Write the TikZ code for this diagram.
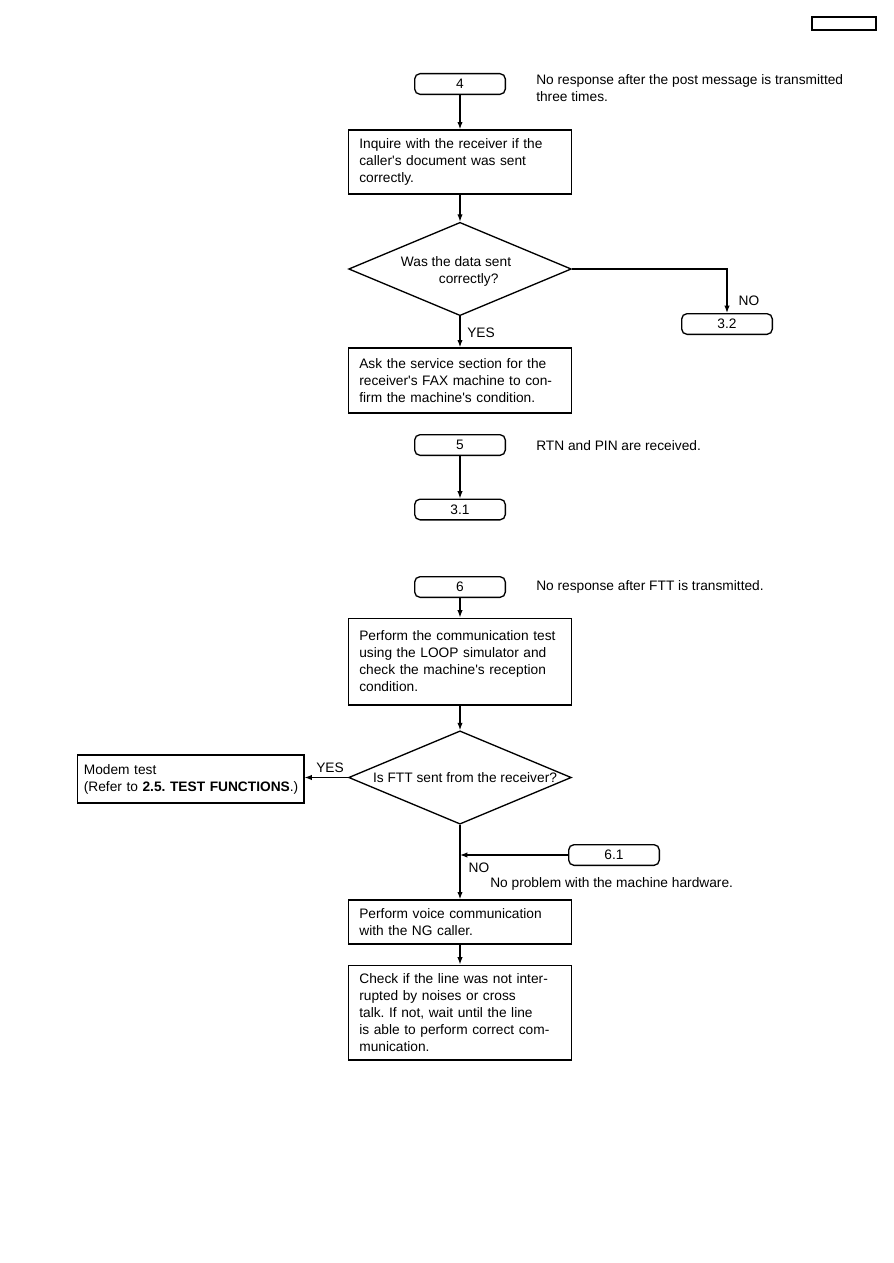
\documentclass[tikz,border=0pt]{standalone}
\usepackage{fontspec}
\setmainfont{Liberation Sans}
\usetikzlibrary{arrows.meta,shapes.geometric}
\newcommand\ap{\textquotesingle}
\tikzset{
  flowbox/.style={draw,line width=1pt,inner xsep=8pt,align=left,
    text width=151pt,minimum height=#1},
  termbox/.style={draw,line width=1pt,rounded corners=4pt,
    minimum width=68pt,minimum height=15.5pt,inner sep=0pt},
  decision/.style={draw,diamond,line width=1pt,inner sep=0pt,
    minimum width=167pt,minimum height=70pt},
  note/.style={anchor=west,align=left,inner sep=0pt},
  flow/.style={line width=.9pt,-{Latex[length=5.5pt,width=4pt]}},
}
\begin{document}
\frenchspacing
\begin{tikzpicture}[x=.75pt,y=-.75pt,font=\fontsize{10.3}{12.75}\selectfont]
  \useasboundingbox (0,0) rectangle (893,1263);
  % page tag
  \node[draw,line width=1.2pt,minimum width=48pt,minimum height=9.5pt,inner sep=0pt]
    (tag) at (844,23.5) {};

  % block 4
  \node[termbox] (t4) at (460,84) {4};
  \node[note] (n4) at (536,88.5) {No response after the post message is transmitted\\three times.};
  \node[flowbox=48pt] (inquire) at (460,162)
    {Inquire with the receiver if the\\caller\ap s document was sent\\correctly.};
  \node[decision] (sentok) at (460,269) {};
  \node[align=left,inner sep=0pt] (sentoktxt) at (456,271)
    {Was the data sent\\\hspace*{28.5pt}correctly?};
  \node[termbox] (t32) at (727,324) {3.2};
  \node[flowbox=48.75pt] (askservice) at (460,380.5)
    {Ask the service section for the\\receiver\ap s FAX machine to con-\\firm the machine\ap s condition.};
  \draw[flow] (t4) -- (inquire);
  \draw[flow] (inquire) -- (sentok);
  \draw[flow] (sentok.east) -| (t32.north);
  \draw[flow] (sentok.south) -- (askservice.north);
  \node (no1) at (749,301) {NO};
  \node (yes1) at (481,333) {YES};

  % block 5
  \node[termbox] (t5) at (460,445) {5};
  \node[note] (n5) at (536,446) {RTN and PIN are received.};
  \node[termbox] (t31) at (460,509.5) {3.1};
  \draw[flow] (t5) -- (t31);

  % block 6
  \node[termbox] (t6) at (460,587) {6};
  \node[note] (n6) at (536,587) {No response after FTT is transmitted.};
  \node[flowbox=65pt] (looptest) at (460,661.5)
    {Perform the communication test\\using the LOOP simulator and\\check the machine\ap s reception\\condition.};
  \node[decision] (fttsent) at (460,777.5) {};
  \node[inner sep=0pt] (fttsenttxt) at (465,778) {Is FTT sent from the receiver?};
  \node[flowbox=36pt,inner xsep=5pt,text width=160pt] (modem) at (190.5,779)
    {Modem test\\\mbox{(Refer to \textbf{2.5. TEST FUNCTIONS}.)}};
  \node[termbox] (t61) at (614,855) {6.1};
  \node[flowbox=33pt] (voice) at (460,922)
    {Perform voice communication\\with the NG caller.};
  \node[flowbox=71pt] (checkline) at (460,1012.5)
    {Check if the line was not inter-\\rupted by noises or cross\\talk. If not, wait until the line\\is able to perform correct com-\\munication.};
  \draw[flow] (t6) -- (looptest);
  \draw[flow] (looptest) -- (fttsent);
  \draw[flow] (fttsent.west) -- (fttsent.west -| modem.east);
  \draw[flow] (fttsent.south) -- (voice.north);
  \draw[flow] (t61.west) -- (t61.west -| fttsent.south);
  \draw[flow] (voice) -- (checkline);
  \node (yes2) at (330,768) {YES};
  \node (no2) at (479,868) {NO};
  \node[note] (n61) at (490,884) {No problem with the machine hardware.};
\end{tikzpicture}
\end{document}
